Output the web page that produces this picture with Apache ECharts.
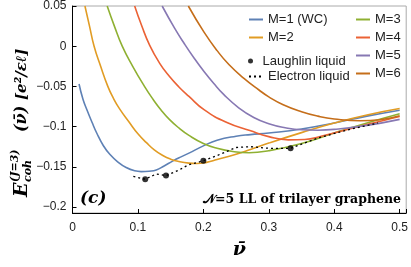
<!DOCTYPE html>
<html><head><meta charset="utf-8">
<script src="https://cdn.jsdelivr.net/npm/echarts@6/dist/echarts.min.js"></script>
<style>html,body{margin:0;padding:0;background:#fff}#c{width:411px;height:267px}</style>
</head><body><div id="c"></div>
<script>
// ---- data ----
const nuM1 = [0.010,0.016,0.022,0.030,0.037,0.047,0.057,0.070,0.082,0.095,0.105,0.117,0.128,0.140,0.153,0.165,0.178,0.200,0.221,0.250,0.272,0.300,0.350,0.400,0.450,0.500];
const eM1  = [-0.047,-0.066,-0.079,-0.095,-0.108,-0.1235,-0.1345,-0.1445,-0.151,-0.155,-0.156,-0.1555,-0.154,-0.149,-0.143,-0.138,-0.133,-0.124,-0.117,-0.112,-0.110,-0.108,-0.103,-0.0955,-0.087,-0.0796];
const nuM2 = [0.019,0.026,0.033,0.043,0.054,0.062,0.072,0.087,0.100,0.113,0.125,0.138,0.150,0.163,0.178,0.190,0.205,0.221,0.250,0.272,0.300,0.350,0.400,0.450,0.500];
const eM2  = [0.05,0.025,0.0,-0.025,-0.05,-0.064,-0.078,-0.095,-0.109,-0.120,-0.129,-0.136,-0.1405,-0.1435,-0.1455,-0.146,-0.1445,-0.141,-0.1345,-0.1285,-0.1205,-0.1075,-0.0955,-0.0855,-0.0775];
const nuM3 = [0.053,0.064,0.076,0.092,0.110,0.123,0.135,0.148,0.163,0.178,0.200,0.221,0.245,0.270,0.300,0.350,0.400,0.450,0.500];
const eM3  = [0.05,0.025,0.0,-0.025,-0.05,-0.066,-0.079,-0.091,-0.102,-0.111,-0.121,-0.127,-0.131,-0.1325,-0.130,-0.121,-0.108,-0.0955,-0.084];
const nuM4 = [0.095,0.1055,0.118,0.133,0.148,0.163,0.178,0.201,0.236,0.271,0.300,0.330,0.355,0.380,0.426,0.477,0.500];
const eM4  = [0.05,0.026,0.001,-0.021,-0.0375,-0.051,-0.0625,-0.079,-0.095,-0.105,-0.1125,-0.1165,-0.116,-0.112,-0.1025,-0.092,-0.0875];
const nuM5 = [0.137,0.156,0.171,0.186,0.201,0.216,0.231,0.254,0.277,0.300,0.325,0.350,0.375,0.400,0.450,0.500];
const eM5  = [0.05,0.0225,0.003,-0.015,-0.0315,-0.0465,-0.060,-0.0766,-0.0886,-0.0964,-0.1014,-0.104,-0.1045,-0.1035,-0.0985,-0.091];
const nuM6 = [0.177,0.201,0.221,0.239,0.262,0.285,0.300,0.322,0.350,0.375,0.400,0.440,0.470,0.500];
const eM6  = [0.05,0.0175,-0.0055,-0.0228,-0.040,-0.0545,-0.063,-0.0728,-0.0815,-0.087,-0.0905,-0.0928,-0.0915,-0.0865];
const nuEL = [0.093,0.111,0.128,0.143,0.163,0.176,0.200,0.221,0.250,0.272,0.300,0.333,0.376,0.421,0.467];
const eEL  = [-0.162,-0.1655,-0.159,-0.161,-0.154,-0.148,-0.1425,-0.136,-0.126,-0.125,-0.127,-0.127,-0.114,-0.104,-0.0955];
const nuLaughlin = [0.1111,0.1429,0.2,0.3333];
const eLaughlin  = [-0.1655,-0.161,-0.1425,-0.127];
const seriesNames = ['M=1 (WC)','M=2','M=3','M=4','M=5','M=6'];
const lineColors = ['#5E81B5','#E19C24','#8FB032','#EB6235','#8778B3','#C56E1A'];
const xTicks = [0,0.1,0.2,0.3,0.4,0.5];
const yTicks = [0.05,0,-0.05,-0.1,-0.15,-0.2];

const zip = (a,b) => a.map((x,i)=>[x,b[i]]);
const curves = [[nuM1,eM1],[nuM2,eM2],[nuM3,eM3],[nuM4,eM4],[nuM5,eM5],[nuM6,eM6]];
const near = (v,list) => list.some(t => Math.abs(t - v) < 1e-6);
const fmt = v => String(+v.toFixed(3)).replace('-', '\u2212');

const chart = echarts.init(document.getElementById('c'), null, {renderer:'canvas'});
const lineSeries = curves.map((c,i)=>({
  name: seriesNames[i], type:'line', symbol:'none', smooth:0.5, z:2,
  lineStyle:{color:lineColors[i], width:1.6}, itemStyle:{color:lineColors[i]},
  data: zip(c[0], c[1])
}));
const legendText = {fontFamily:'Liberation Sans', fontSize:13, color:'#222'};
const serif = '"DejaVu Serif"';
chart.setOption({
  animation:false,
  grid:{left:72.5, right:3.5, top:6, bottom:54, show:true, borderColor:'#aaa', borderWidth:1, backgroundColor:'transparent'},
  xAxis:{type:'value', min:0, max:0.51,
    axisLine:{show:true, onZero:false, lineStyle:{color:'#000', width:1}},
    axisTick:{show:true, inside:true, length:4, lineStyle:{color:'#000'}},
    splitLine:{show:false},
    axisLabel:{margin:9, fontFamily:'Liberation Sans', fontSize:12, color:'#222',
      formatter: v => near(v,xTicks) ? fmt(v) : ''},
    name:'\u03BD\u0304', nameLocation:'middle', nameGap:28,
    nameTextStyle:{fontFamily:serif, fontWeight:'bold', fontStyle:'italic', fontSize:19, color:'#000'}
  },
  yAxis:{type:'value', min:-0.2075, max:0.05,
    axisLine:{show:true, onZero:false, lineStyle:{color:'#000', width:1}},
    axisTick:{show:true, inside:true, length:4, lineStyle:{color:'#000'}},
    splitLine:{show:false},
    axisLabel:{margin:6, fontFamily:'Liberation Sans', fontSize:12, color:'#222',
      formatter: v => near(v,yTicks) ? fmt(v) : ''}
  },
  legend:[
    {data:['M=1 (WC)','M=2'], left:248, top:13, orient:'vertical', padding:0, itemWidth:14, itemHeight:14, itemGap:5, textStyle:legendText, itemStyle:{opacity:0}},
    {data:['Laughlin liquid'], left:248, top:54.5, orient:'vertical', padding:0, itemWidth:14, itemHeight:5, itemGap:5, textStyle:legendText},
    {data:['Electron liquid'], left:248, top:70, orient:'vertical', padding:0, itemWidth:14, itemHeight:14, itemGap:5, textStyle:legendText, itemStyle:{opacity:0}},
    {data:['M=3','M=4','M=5','M=6'], left:355, top:13, orient:'vertical', padding:0, itemWidth:14, itemHeight:14, itemGap:5, textStyle:legendText, itemStyle:{opacity:0}}
  ],
  graphic:[
    {type:'group', x:22, y:197, rotation:Math.PI/2, children:[
      {type:'text', x:0, y:0, style:{text:'E', font:'italic bold 19px '+serif, fill:'#000', verticalAlign:'middle'}},
      {type:'text', x:15, y:6, style:{text:'coh', font:'italic bold 11px '+serif, fill:'#000', verticalAlign:'middle'}},
      {type:'text', x:15, y:-7, style:{text:'(J=3)', font:'italic bold 11px '+serif, fill:'#000', verticalAlign:'middle'}},
      {type:'text', x:65, y:0, style:{text:'(\u03BD\u0304)', font:'italic bold 16px '+serif, fill:'#000', verticalAlign:'middle'}},
      {type:'text', x:97, y:0, style:{text:'[e\u00B2/\u03B5\u2113]', font:'italic bold 15px '+serif, fill:'#000', verticalAlign:'middle'}}
    ]},
    {type:'text', x:80, y:199, style:{text:'(c)', font:'italic bold 17px '+serif, fill:'#000', verticalAlign:'middle'}},
    {type:'text', x:401, y:200, style:{text:'\uD835\uDCA9=5 LL of trilayer graphene', font:'bold 12.5px '+serif, fill:'#000', align:'right', verticalAlign:'middle'}}
  ],
  series: lineSeries.concat([
    {name:'Electron liquid', type:'line', symbol:'none', z:3, lineStyle:{color:'#000', width:1.3, type:[2,3]}, itemStyle:{color:'#000'}, data:zip(nuEL,eEL)},
    {name:'Laughlin liquid', type:'scatter', symbol:'circle', symbolSize:6, z:4, itemStyle:{color:'#000'}, data:zip(nuLaughlin,eLaughlin)}
  ])
});
</script></body></html>
